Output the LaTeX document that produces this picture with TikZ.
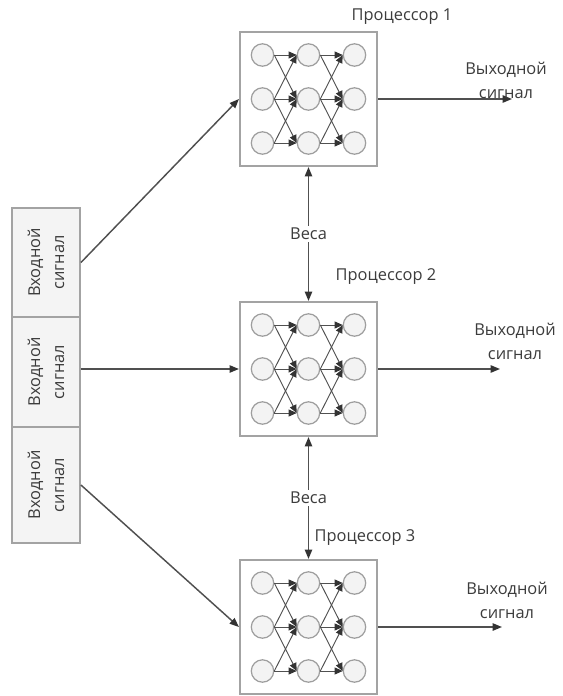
\documentclass[tikz,border=0pt]{standalone}
\usepackage{fontspec}
\setmainfont{Open Sans}
\usetikzlibrary{arrows.meta}
\definecolor{boxgray}{HTML}{A3A3A3}
\definecolor{linegray}{HTML}{505050}
\definecolor{tipdark}{HTML}{333333}
\definecolor{circgray}{HTML}{9E9E9E}
\definecolor{circfill}{HTML}{F3F3F3}
\definecolor{inputfill}{HTML}{F4F4F4}
\definecolor{txt}{HTML}{3C3C3C}
\begin{document}
\begin{tikzpicture}[x=0.75pt,y=-0.75pt,
  every node/.style={font=\fontsize{12.3}{18}\selectfont, text=txt},
  pbox/.style={draw=boxgray, line width=1.6pt, fill=white, rectangle,
    minimum width=102.75pt, minimum height=100.5pt, inner sep=0pt},
  inbox/.style={draw=boxgray, line width=1.4pt, fill=inputfill, rectangle,
    minimum width=51pt, inner sep=0pt},
  neuron/.style={draw=circgray, line width=0.9pt, fill=circfill, circle,
    minimum size=16.8pt, inner sep=0pt},
  nettip/.tip={Triangle[length=6pt,width=5.2pt,fill=tipdark,color=tipdark]},
  maintip/.tip={Triangle[length=7pt,width=5.5pt,fill=tipdark,color=tipdark]},
  netarrow/.style={draw=linegray, line width=0.7pt, -nettip},
  mainarrow/.style={draw=linegray, line width=1.1pt, -maintip},
  wlabel/.style={fill=white, inner sep=1.5pt}]
\useasboundingbox (0,0) rectangle (562,696);

% input boxes
\node[inbox, minimum height=81.75pt] (in1) at (46,262.5) {};
\node[inbox, minimum height=82.5pt] (in2) at (46,372) {};
\node[inbox, minimum height=87pt] (in3) at (46,485) {};
\foreach \k in {1,2,3}
  \node[rotate=90, align=center] (in\k t) at (in\k) {Входной\\сигнал};

% processors
\foreach \i/\y in {1/99,2/369,3/627}{
  \node[pbox] (p\i) at (308.5,\y) {};
  \foreach \r/\dy in {1/-44,2/0,3/44}
    \foreach \c/\dx in {1/-46,2/0,3/46}
      \node[neuron] (p\i-\r-\c) at (308.5+\dx,\y+\dy) {};
  \foreach \a/\b in {1/1,1/2,2/1,2/2,2/3,3/2,3/3}
    \foreach \c/\d in {1/2,2/3}
      \draw[netarrow] (p\i-\a-\c.east) -- (p\i-\b-\d.west);
}

% processor labels
\node (l1) at (402,17) {Процессор 1};
\node (l2) at (386,277) {Процессор 2};
\node (l3) at (365,538) {Процессор 3};

% inputs to processors
\draw[mainarrow] (in1.east) -- (p1.west);
\draw[mainarrow] (in2.east |- p2.west) -- (p2.west);
\draw[mainarrow] (in3.east) -- (p3.west);

% outputs
\coordinate (o1) at (512,99);
\coordinate (o2) at (500,369);
\coordinate (o3) at (502,627);
\draw[mainarrow] (p1.east) -- (o1);
\draw[mainarrow] (p2.east) -- (o2);
\draw[mainarrow] (p3.east) -- (o3);
\node[align=center] (out1) at (506,80) {Выходной\\сигнал};
\node[align=center] (out2) at (515,341) {Выходной\\сигнал};
\node[align=center] (out3) at (507,600) {Выходной\\сигнал};

% weights
\draw[mainarrow, maintip-maintip]
  (p1.south) -- (p2.north) node[midway, wlabel] (w1) {Веса};
\draw[mainarrow, maintip-maintip]
  (p2.south) -- (p3.north) node[midway, wlabel] (w2) {Веса};
\end{tikzpicture}
\end{document}
